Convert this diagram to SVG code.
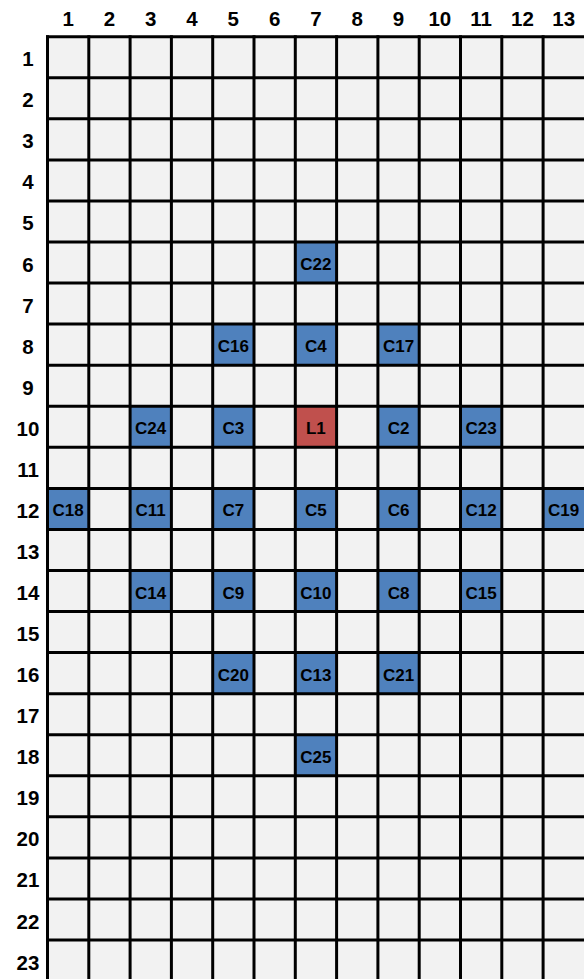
<svg xmlns="http://www.w3.org/2000/svg" width="584" height="979" viewBox="0 0 584 979">
<style>
.hdr{font-family:"Liberation Sans",Arial,sans-serif;font-weight:bold;font-size:20.5px;fill:#000;text-anchor:middle}
.lbl{font-family:"Liberation Sans",Arial,sans-serif;font-weight:bold;font-size:17px;fill:#000;text-anchor:middle}
.b{fill:#4F81BD}
.r{fill:#C0504D}
.g{stroke:#000;stroke-width:3}
</style>
<rect width="584" height="979" fill="#fff"/>
<rect x="47.5" y="36.7" width="537" height="945" fill="#F2F2F2"/>
<g id="col-headers">
<text class="hdr" x="68.1" y="26">1</text>
<text class="hdr" x="109.4" y="26">2</text>
<text class="hdr" x="150.7" y="26">3</text>
<text class="hdr" x="192" y="26">4</text>
<text class="hdr" x="233.3" y="26">5</text>
<text class="hdr" x="274.6" y="26">6</text>
<text class="hdr" x="315.9" y="26">7</text>
<text class="hdr" x="357.2" y="26">8</text>
<text class="hdr" x="398.5" y="26">9</text>
<text class="hdr" x="439.8" y="26">10</text>
<text class="hdr" x="481.1" y="26">11</text>
<text class="hdr" x="522.4" y="26">12</text>
<text class="hdr" x="563.7" y="26">13</text>
</g>
<g id="row-headers">
<text class="hdr" x="28" y="66.2">1</text>
<text class="hdr" x="28" y="107.3">2</text>
<text class="hdr" x="28" y="148.3">3</text>
<text class="hdr" x="28" y="189.4">4</text>
<text class="hdr" x="28" y="230.4">5</text>
<text class="hdr" x="28" y="271.5">6</text>
<text class="hdr" x="28" y="312.6">7</text>
<text class="hdr" x="28" y="353.6">8</text>
<text class="hdr" x="28" y="394.7">9</text>
<text class="hdr" x="28" y="435.7">10</text>
<text class="hdr" x="28" y="476.8">11</text>
<text class="hdr" x="28" y="517.9">12</text>
<text class="hdr" x="28" y="558.9">13</text>
<text class="hdr" x="28" y="600">14</text>
<text class="hdr" x="28" y="641">15</text>
<text class="hdr" x="28" y="682.1">16</text>
<text class="hdr" x="28" y="723.2">17</text>
<text class="hdr" x="28" y="764.2">18</text>
<text class="hdr" x="28" y="805.3">19</text>
<text class="hdr" x="28" y="846.3">20</text>
<text class="hdr" x="28" y="887.4">21</text>
<text class="hdr" x="28" y="928.5">22</text>
<text class="hdr" x="28" y="969.5">23</text>
</g>
<g id="cells">
<g id="C22"><rect class="b" x="295.2" y="242" width="41.3" height="41.1"/><text class="lbl" x="315.9" y="270">C22</text></g>
<g id="C16"><rect class="b" x="212.6" y="324.2" width="41.3" height="41.1"/><text class="lbl" x="233.3" y="352.1">C16</text></g>
<g id="C4"><rect class="b" x="295.2" y="324.2" width="41.3" height="41.1"/><text class="lbl" x="315.9" y="352.1">C4</text></g>
<g id="C17"><rect class="b" x="377.8" y="324.2" width="41.3" height="41.1"/><text class="lbl" x="398.5" y="352.1">C17</text></g>
<g id="C24"><rect class="b" x="130" y="406.2" width="41.3" height="41.1"/><text class="lbl" x="150.7" y="434.2">C24</text></g>
<g id="C3"><rect class="b" x="212.6" y="406.2" width="41.3" height="41.1"/><text class="lbl" x="233.3" y="434.2">C3</text></g>
<g id="L1"><rect class="r" x="295.2" y="406.2" width="41.3" height="41.1"/><text class="lbl" x="315.9" y="434.2">L1</text></g>
<g id="C2"><rect class="b" x="377.8" y="406.2" width="41.3" height="41.1"/><text class="lbl" x="398.5" y="434.2">C2</text></g>
<g id="C23"><rect class="b" x="460.4" y="406.2" width="41.3" height="41.1"/><text class="lbl" x="481.1" y="434.2">C23</text></g>
<g id="C18"><rect class="b" x="47.5" y="488.4" width="41.3" height="41.1"/><text class="lbl" x="68.1" y="516.4">C18</text></g>
<g id="C11"><rect class="b" x="130" y="488.4" width="41.3" height="41.1"/><text class="lbl" x="150.7" y="516.4">C11</text></g>
<g id="C7"><rect class="b" x="212.6" y="488.4" width="41.3" height="41.1"/><text class="lbl" x="233.3" y="516.4">C7</text></g>
<g id="C5"><rect class="b" x="295.2" y="488.4" width="41.3" height="41.1"/><text class="lbl" x="315.9" y="516.4">C5</text></g>
<g id="C6"><rect class="b" x="377.8" y="488.4" width="41.3" height="41.1"/><text class="lbl" x="398.5" y="516.4">C6</text></g>
<g id="C12"><rect class="b" x="460.4" y="488.4" width="41.3" height="41.1"/><text class="lbl" x="481.1" y="516.4">C12</text></g>
<g id="C19"><rect class="b" x="543" y="488.4" width="41.3" height="41.1"/><text class="lbl" x="563.7" y="516.4">C19</text></g>
<g id="C14"><rect class="b" x="130" y="570.5" width="41.3" height="41.1"/><text class="lbl" x="150.7" y="598.5">C14</text></g>
<g id="C9"><rect class="b" x="212.6" y="570.5" width="41.3" height="41.1"/><text class="lbl" x="233.3" y="598.5">C9</text></g>
<g id="C10"><rect class="b" x="295.2" y="570.5" width="41.3" height="41.1"/><text class="lbl" x="315.9" y="598.5">C10</text></g>
<g id="C8"><rect class="b" x="377.8" y="570.5" width="41.3" height="41.1"/><text class="lbl" x="398.5" y="598.5">C8</text></g>
<g id="C15"><rect class="b" x="460.4" y="570.5" width="41.3" height="41.1"/><text class="lbl" x="481.1" y="598.5">C15</text></g>
<g id="C20"><rect class="b" x="212.6" y="652.6" width="41.3" height="41.1"/><text class="lbl" x="233.3" y="680.6">C20</text></g>
<g id="C13"><rect class="b" x="295.2" y="652.6" width="41.3" height="41.1"/><text class="lbl" x="315.9" y="680.6">C13</text></g>
<g id="C21"><rect class="b" x="377.8" y="652.6" width="41.3" height="41.1"/><text class="lbl" x="398.5" y="680.6">C21</text></g>
<g id="C25"><rect class="b" x="295.2" y="734.8" width="41.3" height="41.1"/><text class="lbl" x="315.9" y="762.7">C25</text></g>
</g>
<g id="grid" class="g">
<line x1="47.5" y1="35.2" x2="47.5" y2="979"/>
<line x1="88.8" y1="35.2" x2="88.8" y2="979"/>
<line x1="130.1" y1="35.2" x2="130.1" y2="979"/>
<line x1="171.4" y1="35.2" x2="171.4" y2="979"/>
<line x1="212.7" y1="35.2" x2="212.7" y2="979"/>
<line x1="254" y1="35.2" x2="254" y2="979"/>
<line x1="295.3" y1="35.2" x2="295.3" y2="979"/>
<line x1="336.6" y1="35.2" x2="336.6" y2="979"/>
<line x1="377.9" y1="35.2" x2="377.9" y2="979"/>
<line x1="419.2" y1="35.2" x2="419.2" y2="979"/>
<line x1="460.5" y1="35.2" x2="460.5" y2="979"/>
<line x1="501.8" y1="35.2" x2="501.8" y2="979"/>
<line x1="543.1" y1="35.2" x2="543.1" y2="979"/>
<line x1="46" y1="36.7" x2="584" y2="36.7"/>
<line x1="46" y1="77.8" x2="584" y2="77.8"/>
<line x1="46" y1="118.8" x2="584" y2="118.8"/>
<line x1="46" y1="159.9" x2="584" y2="159.9"/>
<line x1="46" y1="200.9" x2="584" y2="200.9"/>
<line x1="46" y1="242" x2="584" y2="242"/>
<line x1="46" y1="283.1" x2="584" y2="283.1"/>
<line x1="46" y1="324.1" x2="584" y2="324.1"/>
<line x1="46" y1="365.2" x2="584" y2="365.2"/>
<line x1="46" y1="406.2" x2="584" y2="406.2"/>
<line x1="46" y1="447.3" x2="584" y2="447.3"/>
<line x1="46" y1="488.4" x2="584" y2="488.4"/>
<line x1="46" y1="529.4" x2="584" y2="529.4"/>
<line x1="46" y1="570.5" x2="584" y2="570.5"/>
<line x1="46" y1="611.5" x2="584" y2="611.5"/>
<line x1="46" y1="652.6" x2="584" y2="652.6"/>
<line x1="46" y1="693.7" x2="584" y2="693.7"/>
<line x1="46" y1="734.7" x2="584" y2="734.7"/>
<line x1="46" y1="775.8" x2="584" y2="775.8"/>
<line x1="46" y1="816.8" x2="584" y2="816.8"/>
<line x1="46" y1="857.9" x2="584" y2="857.9"/>
<line x1="46" y1="899" x2="584" y2="899"/>
<line x1="46" y1="940" x2="584" y2="940"/>
</g>
</svg>
